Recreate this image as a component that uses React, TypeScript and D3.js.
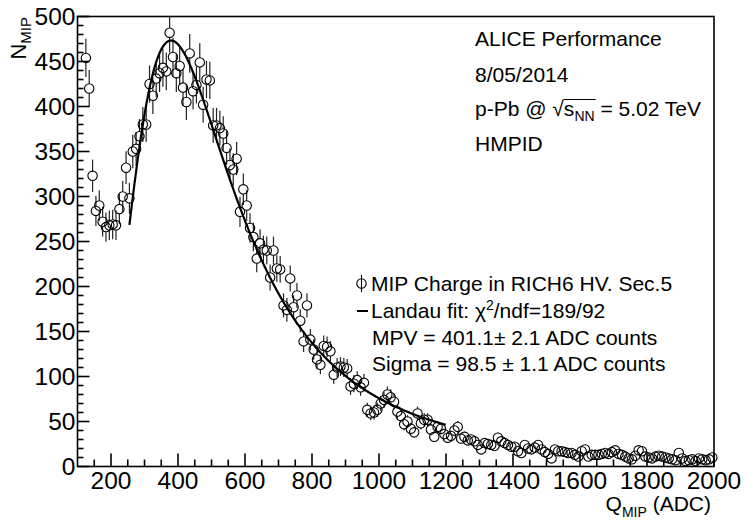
import React, { useEffect, useRef, useState } from 'react';
import * as d3 from 'd3';

const W = 746;
const H = 520;
const X_DOMAIN: [number, number] = [100, 2000];
const Y_DOMAIN: [number, number] = [0, 500];
const BIN_START = 125;
const BIN_WIDTH = 10;

// Counts per bin (bin centers 125, 135, ..., 1995)
const COUNTS = [
  454, 420, 323, 284, 290, 272, 266, 268, 269, 268,
  286, 300, 332, 298, 350, 353, 367, 380, 380, 425,
  412, 431, 437, 443, 439, 482, 455, 437, 445, 421,
  405, 459, 417, 424, 449, 402, 430, 429, 379, 379,
  376, 370, 354, 335, 330, 342, 283, 308, 290, 265,
  255, 231, 248, 241, 240, 210, 240, 220, 219, 179,
  174, 209, 177, 190, 162, 139, 179, 141, 130, 119,
  113, 134, 133, 128, 102, 110, 111, 110, 109, 89,
  92, 96, 88, 93, 63, 59, 60, 63, 70, 74,
  80, 77, 72, 61, 56, 47, 50, 42, 38, 59,
  48, 52, 52, 41, 33, 44, 42, 36, 32, 34,
  40, 44, 31, 33, 29, 30, 28, 24, 19, 26,
  25, 24, 23, 32, 28, 26, 24, 22, 22, 17,
  15, 24, 20, 19, 21, 24, 19, 16, 14, 9,
  19, 17, 17, 16, 15, 15, 13, 11, 17, 19,
  11, 13, 13, 13, 14, 15, 14, 16, 18, 14,
  13, 11, 9, 8, 12, 18, 17, 11, 10, 9,
  11, 12, 11, 10, 9, 8, 7, 15, 9, 6,
  7, 8, 6, 9, 8, 7, 8, 10,
];

const X_MAJOR = [200, 400, 600, 800, 1000, 1200, 1400, 1600, 1800, 2000];
const X_MINOR_STEP = 50;
const Y_MAJOR = [0, 50, 100, 150, 200, 250, 300, 350, 400, 450, 500];
const Y_MINOR_STEP = 10;

// Landau fit parameters
const FIT_MPV = 401.1;
const FIT_SIGMA = 98.5;
const FIT_CONST = 2620;
const FIT_RANGE: [number, number] = [255, 1200];

const INFO_LINES = ['ALICE Performance', '8/05/2014'];
const INFO_LAST = 'HMPID';

const FONT = '"Liberation Sans", Arial, Helvetica, sans-serif';

// CERNLIB DENLAN (as in ROOT TMath::Landau)
function landau(x: number, mpv: number, sigma: number): number {
  const p1 = [0.4259894875, -0.124976255, 0.039842437, -0.006298287635, 0.001511162253];
  const q1 = [1.0, -0.3388260629, 0.09594393323, -0.01608042283, 0.003778942063];
  const p2 = [0.1788541609, 0.1173957403, 0.01488850518, -0.001394989411, 0.0001283617211];
  const q2 = [1.0, 0.7428795082, 0.3153932961, 0.06694219548, 0.008790609714];
  const p3 = [0.1788544503, 0.09359161662, 0.006325387654, 0.00006611667319, -0.000002031049101];
  const q3 = [1.0, 0.6097809921, 0.2560616665, 0.04746722384, 0.006957301675];
  const p4 = [0.9874054407, 118.6723273, 849.279436, -743.7792444, 427.0262186];
  const q4 = [1.0, 106.8615961, 337.6496214, 2016.712389, 1597.063511];
  const p5 = [1.003675074, 167.5702434, 4789.711289, 21217.86767, -22324.9491];
  const q5 = [1.0, 156.9424537, 3745.310488, 9834.698876, 66924.28357];
  const a1 = [0.04166666667, -0.01996527778, 0.02709538966];
  const poly = (p: number[], v: number) => p[0] + (p[1] + (p[2] + (p[3] + p[4] * v) * v) * v) * v;
  const v = (x - mpv) / sigma;
  if (v < -5.5) {
    const u = Math.exp(v + 1.0);
    if (u < 1e-10) return 0;
    const ue = Math.exp(-1 / u);
    const us = Math.sqrt(u);
    return 0.3989422803 * (ue / us) * (1 + (a1[0] + (a1[1] + a1[2] * u) * u) * u);
  } else if (v < -1) {
    const u = Math.exp(-v - 1);
    return Math.exp(-u) * Math.sqrt(u) * poly(p1, v) / poly(q1, v);
  } else if (v < 1) {
    return poly(p2, v) / poly(q2, v);
  } else if (v < 5) {
    return poly(p3, v) / poly(q3, v);
  } else if (v < 12) {
    const u = 1 / v;
    return u * u * poly(p4, u) / poly(q4, u);
  } else {
    const u = 1 / v;
    return u * u * poly(p5, u) / poly(q5, u);
  }
}

const PLOT = { left: 77.5, right: 714, top: 16.5, bottom: 466.5 };

export default function App() {
  const x = d3.scaleLinear().domain(X_DOMAIN).range([PLOT.left, PLOT.right]);
  const y = d3.scaleLinear().domain(Y_DOMAIN).range([PLOT.bottom, PLOT.top]);

  const points = COUNTS.map((c, i) => ({ xv: BIN_START + i * BIN_WIDTH, c }));
  const R = 4.7;

  const fitXs = d3.range(FIT_RANGE[0], FIT_RANGE[1] + 0.001, 2);
  const fitLine = d3
    .line<number>()
    .x((d) => x(d))
    .y((d) => y(FIT_CONST * landau(d, FIT_MPV, FIT_SIGMA)))(fitXs);

  const xMinor = d3.range(X_DOMAIN[0] + X_MINOR_STEP, X_DOMAIN[1], X_MINOR_STEP).filter((v) => !X_MAJOR.includes(v));
  const yMinor = d3.range(Y_DOMAIN[0] + Y_MINOR_STEP, Y_DOMAIN[1], Y_MINOR_STEP).filter((v) => !Y_MAJOR.includes(v));

  const sqrtTextRef = useRef<SVGTextElement>(null);
  const [over, setOver] = useState<{ x1: number; x2: number } | null>(null);
  useEffect(() => {
    const t = sqrtTextRef.current;
    if (!t) return;
    try {
      const s = t.getStartPositionOfChar(8).x;
      const e = t.getEndPositionOfChar(10).x;
      setOver({ x1: s - 0.5, x2: e + 1 });
    } catch (err) {
      /* ignore */
    }
  }, []);

  const infoX = 475;
  return (
    <svg width={W} height={H} style={{ position: 'absolute', left: 0, top: 0, display: 'block', background: '#fff' }} fontFamily={FONT}>
      <rect x={0} y={0} width={W} height={H} fill="#fff" />
      {/* error bars */}
      <g stroke="#222" strokeWidth={1.2}>
        {points.map((p, i) => {
          const e = Math.sqrt(p.c);
          const cy = y(p.c);
          const cx = x(p.xv);
          const yt = y(Math.min(p.c + e, Y_DOMAIN[1]));
          const yb = y(p.c - e);
          return (
            <g key={i}>
              {yt < cy - R && <line x1={cx} x2={cx} y1={yt} y2={cy - R} />}
              {yb > cy + R && <line x1={cx} x2={cx} y1={cy + R} y2={yb} />}
            </g>
          );
        })}
      </g>
      {/* markers */}
      <g fill="none" stroke="#000" strokeWidth={1.1}>
        {points.map((p, i) => (
          <circle key={i} cx={x(p.xv)} cy={y(p.c)} r={R} />
        ))}
      </g>
      {/* fit */}
      <path d={fitLine || ''} fill="none" stroke="#000" strokeWidth={2.2} />

      {/* frame */}
      <rect x={PLOT.left} y={PLOT.top} width={PLOT.right - PLOT.left} height={PLOT.bottom - PLOT.top} fill="none" stroke="#000" strokeWidth={1.6} />
      {/* ticks */}
      <g stroke="#000" strokeWidth={1.6}>
        {X_MAJOR.map((v) => (
          <line key={'xM' + v} x1={x(v)} x2={x(v)} y1={PLOT.bottom} y2={PLOT.bottom - 13} />
        ))}
        {xMinor.map((v) => (
          <line key={'xm' + v} x1={x(v)} x2={x(v)} y1={PLOT.bottom} y2={PLOT.bottom - 7} />
        ))}
        {Y_MAJOR.map((v) => (
          <line key={'yM' + v} x1={PLOT.left} x2={PLOT.left + 12} y1={y(v)} y2={y(v)} />
        ))}
        {yMinor.map((v) => (
          <line key={'ym' + v} x1={PLOT.left} x2={PLOT.left + 6} y1={y(v)} y2={y(v)} />
        ))}
      </g>
      {/* tick labels */}
      <g fontSize={24.5} fill="#000">
        {X_MAJOR.map((v) => (
          <text key={'xl' + v} x={x(v)} y={489} textAnchor="middle">
            {v}
          </text>
        ))}
        {Y_MAJOR.map((v) => (
          <text key={'yl' + v} x={PLOT.left - 2} y={y(v)} dy="0.36em" textAnchor="end">
            {v}
          </text>
        ))}
      </g>
      {/* axis titles */}
      <text transform="translate(26,17) rotate(-90)" textAnchor="end" fontSize={22} fill="#000">
        N<tspan fontSize={15} dy={5}>MIP</tspan>
      </text>
      <text x={711} y={511} textAnchor="end" fontSize={21} fill="#000">
        Q<tspan fontSize={14} dy={6}>MIP</tspan>
        <tspan dy={-6}> (ADC)</tspan>
      </text>

      {/* info block */}
      <g fontSize={21} fill="#000">
        <text x={infoX} y={46}>{INFO_LINES[0]}</text>
        <text x={infoX} y={82}>{INFO_LINES[1]}</text>
        <text ref={sqrtTextRef} x={infoX} y={116}>
          p-Pb @ √s<tspan fontSize={14} dy={5}>NN</tspan>
          <tspan dy={-5}> = 5.02 TeV</tspan>
        </text>
        {over && <line x1={over.x1} x2={over.x2} y1={99.5} y2={99.5} stroke="#000" strokeWidth={1} />}
        <text x={infoX} y={151}>{INFO_LAST}</text>
      </g>

      {/* legend */}
      <g>
        <line x1={361.5} x2={361.5} y1={275} y2={292} stroke="#000" strokeWidth={1.1} />
        <circle cx={361.5} cy={283.5} r={R} fill="none" stroke="#000" strokeWidth={1.1} />
        <line x1={357} x2={368} y1={311} y2={311} stroke="#000" strokeWidth={2} />
        <g fontSize={21} fill="#000">
          <text x={371} y={291}>MIP Charge in RICH6 HV. Sec.5</text>
          <text x={371} y={318}>
            Landau fit: χ<tspan fontSize={14} dy={-8}>2</tspan>
            <tspan dy={8}>/ndf=189/92</tspan>
          </text>
          <text x={372} y={345}>MPV = 401.1± 2.1 ADC counts</text>
          <text x={372} y={371}>Sigma = 98.5 ± 1.1 ADC counts</text>
        </g>
      </g>
    </svg>
  );
}
